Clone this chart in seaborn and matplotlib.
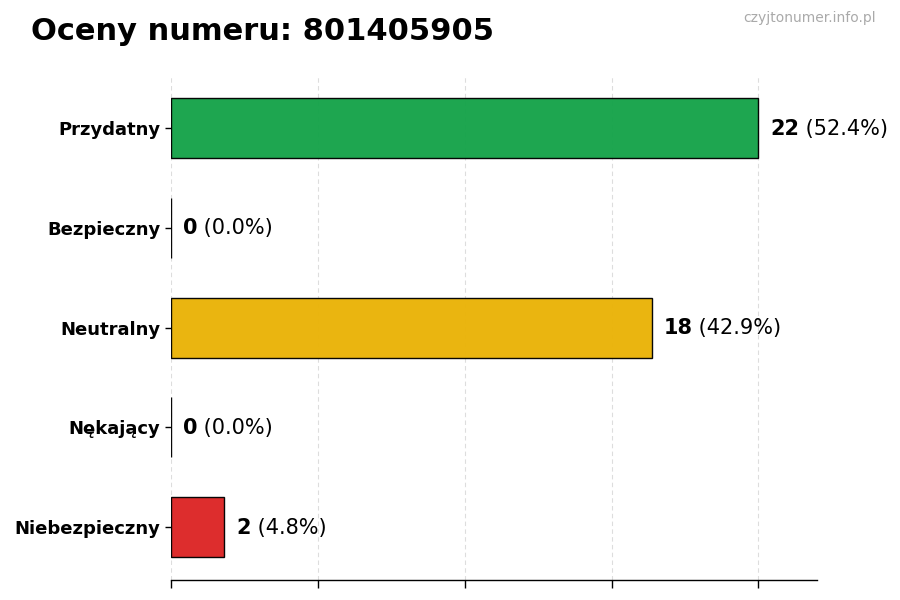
import numpy as np
import matplotlib
matplotlib.use("Agg")
import matplotlib.pyplot as plt
import seaborn as sns
import pandas as pd

# data
categories = ["Przydatny", "Bezpieczny", "Neutralny", "Nękający", "Niebezpieczny"]
counts = [22, 0, 18, 0, 2]
colors = ["#16a34a", "#9ca3af", "#eab308", "#f97316", "#dc2626"]
number = "801405905"

total = sum(counts)
df = pd.DataFrame({"kategoria": categories, "liczba": counts})

sns.set_style("white")
plt.rcParams["font.family"] = ["DejaVu Sans"]
plt.rcParams["text.color"] = "black"
plt.rcParams["ytick.color"] = "black"
plt.rcParams["ytick.labelcolor"] = "black"

fig, ax = plt.subplots(figsize=(9, 6), dpi=100)
fig.subplots_adjust(left=0.19, right=0.908, top=0.875, bottom=0.033)

sns.barplot(data=df, y="kategoria", x="liczba", hue="kategoria",
            palette=colors, saturation=1, orient="h", width=0.6,
            edgecolor="black", linewidth=1, alpha=0.97, legend=False,
            ax=ax, zorder=2)

xmax = max(counts) * 1.1
ax.set_xlim(0, xmax)
ax.set_ylim(len(counts) - 1 + 0.53, -0.53)
ax.set_xticks(np.linspace(0, max(counts), 5))
ax.set_xticklabels([])
ax.tick_params(axis="x", length=6, width=1, color="black", bottom=True)
ax.tick_params(axis="y", length=4, width=1, color="black", left=True)
ax.grid(axis="x", linestyle=(0, (4, 3)), color="#dddddd", linewidth=0.8, zorder=0)
ax.set_axisbelow(True)
ax.set_xlabel("")
ax.set_ylabel("")
for lbl in ax.get_yticklabels():
    lbl.set_fontweight("bold")
    lbl.set_fontsize(13)
    lbl.set_color("black")

for s in ["top", "right", "left"]:
    ax.spines[s].set_visible(False)
ax.spines["bottom"].set_color("black")
ax.spines["bottom"].set_linewidth(1)

# value labels
for i, c in enumerate(counts):
    pct = c / total * 100
    t1 = ax.annotate(str(c), xy=(c, i), xytext=(8.5, -0.5), textcoords="offset points",
                     ha="left", va="center", fontsize=15, fontweight="bold",
                     color="black")
    ax.annotate(f" ({pct:.1f}%)", xy=(1, 0), xycoords=t1, ha="left", va="bottom",
                fontsize=15, color="black")

fig.text(0.034, 0.947, f"Oceny numeru: {number}", fontsize=22, fontweight="bold",
         ha="left", va="center", color="black")
fig.text(0.973, 0.97, "czyjtonumer.info.pl", fontsize=10, color="#aaaaaa",
         ha="right", va="center")

fig.savefig("out.png", dpi=100)
